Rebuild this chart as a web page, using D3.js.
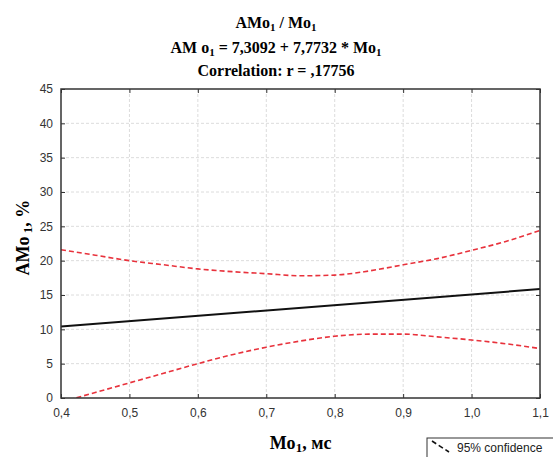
<!DOCTYPE html>
<html>
<head>
<meta charset="utf-8">
<script src="https://cdn.jsdelivr.net/npm/d3@7"></script>
<style>
  body { margin: 0; background: #fff; }
  .tick text { font-family: "Liberation Sans", Arial, sans-serif; font-size: 12px; fill: #333; }
</style>
</head>
<body>
<svg id="chart" width="553" height="457"></svg>
<script>
// regression AMo1 = a + b * Mo1
var intercept = 7.3092;
var slope = 7.7732;

var xTicks = [0.4, 0.5, 0.6, 0.7, 0.8, 0.9, 1.0, 1.1];
var yTicks = [0, 5, 10, 15, 20, 25, 30, 35, 40, 45];

// 95% confidence band
var bandX = [0.4, 0.45, 0.5, 0.55, 0.6, 0.65, 0.7, 0.75, 0.8, 0.85, 0.9, 0.95, 1.0, 1.05, 1.1];
var upperBand = [21.6, 20.8, 20.0, 19.4, 18.8, 18.4, 18.1, 17.8, 17.9, 18.5, 19.4, 20.3, 21.5, 22.8, 24.4];
var lowerBand = [-0.6, 0.8, 2.2, 3.6, 5.0, 6.3, 7.4, 8.3, 9.0, 9.3, 9.3, 8.9, 8.45, 7.9, 7.2];

var svg = d3.select("#chart");
var margin = {top: 89, right: 13, bottom: 59, left: 61};
var width = 553 - margin.left - margin.right;
var height = 457 - margin.top - margin.bottom;

var xScale = d3.scaleLinear().domain([0.4, 1.1]).range([0, width]);
var yScale = d3.scaleLinear().domain([0, 45]).range([height, 0]);

var fmt = function (d) { return d3.format(".1f")(d).replace(".", ","); };

//titles
var titleFont = "'Liberation Serif', 'Times New Roman', serif";
var titles = [
    [["AMo", ""], ["1", "sub"], [" / Mo", ""], ["1", "sub"]],
    [["AM o", ""], ["1", "sub"], [" = 7,3092 + 7,7732 * Mo", ""], ["1", "sub"]],
    [["Correlation: r = ,17756", ""]]
];
var titleY = [28, 53, 76];
titles.forEach(function (parts, i) {
    var t = svg.append("text")
        .attr("x", 276)
        .attr("y", titleY[i])
        .attr("text-anchor", "middle")
        .style("font-family", titleFont)
        .style("font-size", "16px")
        .style("font-weight", "bold");
    parts.forEach(function (p) {
        var ts = t.append("tspan").text(p[0]);
        if (p[1] == "sub") {
            ts.attr("dy", 3).style("font-size", "11px");
        } else {
            ts.attr("dy", t.selectAll("tspan").size() > 1 ? -3 : 0);
        }
    });
});

var panel = svg.append("g")
    .attr("transform", "translate(" + margin.left + "," + margin.top + ")");

// grid
panel.append("g")
    .selectAll("line.gx")
    .data(xTicks.slice(1, -1))
    .enter().append("line")
    .attr("x1", function (d) { return xScale(d); })
    .attr("x2", function (d) { return xScale(d); })
    .attr("y1", 0).attr("y2", height)
    .attr("stroke", "#dcdcdc")
    .attr("stroke-dasharray", "3,2");
panel.append("g")
    .selectAll("line.gy")
    .data(yTicks.slice(1, -1))
    .enter().append("line")
    .attr("y1", function (d) { return yScale(d); })
    .attr("y2", function (d) { return yScale(d); })
    .attr("x1", 0).attr("x2", width)
    .attr("stroke", "#dcdcdc")
    .attr("stroke-dasharray", "3,2");

// axes
var xAxis = d3.axisBottom(xScale).tickValues(xTicks).tickFormat(fmt).tickSizeInner(-4).tickSizeOuter(0).tickPadding(10);
var gx = panel.append("g").attr("transform", "translate(0," + height + ")").call(xAxis);
var yAxis = d3.axisLeft(yScale).tickValues(yTicks).tickSizeInner(-4).tickSizeOuter(0).tickPadding(8);
var gy = panel.append("g").call(yAxis);
panel.append("g").attr("transform", "translate(0,0)")
    .call(d3.axisTop(xScale).tickValues(xTicks).tickFormat("").tickSizeInner(-4).tickSizeOuter(0));
panel.append("g").attr("transform", "translate(" + width + ",0)")
    .call(d3.axisRight(yScale).tickValues(yTicks).tickFormat("").tickSizeInner(-4).tickSizeOuter(0));
panel.selectAll(".domain").remove();
panel.selectAll(".tick line").attr("stroke", "#333");

panel.append("defs").append("clipPath").attr("id", "clip")
    .append("rect").attr("width", width).attr("height", height);

// confidence band
var band = d3.line()
    .x(function (d) { return xScale(d.x); })
    .y(function (d) { return yScale(d.y); })
    .curve(d3.curveMonotoneX);

[upperBand, lowerBand].forEach(function (arr) {
    var pts = bandX.map(function (x, i) { return {x: x, y: arr[i]}; });
    panel.append("path")
        .datum(pts)
        .attr("clip-path", "url(#clip)")
        .attr("d", band)
        .attr("fill", "none")
        .attr("stroke", "#e8323c")
        .attr("stroke-width", 1.6)
        .attr("stroke-dasharray", "5,3");
});

// regression line
var fitPts = [0.4, 1.1].map(function (x) { return {x: x, y: intercept + slope * x}; });
panel.append("path")
    .datum(fitPts)
    .attr("d", d3.line().x(function (d) { return xScale(d.x); }).y(function (d) { return yScale(d.y); }))
    .attr("fill", "none")
    .attr("stroke", "#111")
    .attr("stroke-width", 2);

// frame
panel.append("rect")
    .attr("width", width).attr("height", height)
    .attr("fill", "none")
    .attr("stroke", "#333")
    .attr("stroke-width", 1.5);

// axis labels
var xl = svg.append("text")
    .attr("x", margin.left + width / 2)
    .attr("y", 449)
    .attr("text-anchor", "middle")
    .style("font-family", titleFont)
    .style("font-size", "18px")
    .style("font-weight", "bold");
xl.append("tspan").text("Mo");
xl.append("tspan").attr("dy", 3).style("font-size", "13px").text("1");
xl.append("tspan").attr("dy", -3).text(", мс");

var yl = svg.append("text")
    .attr("transform", "translate(29," + (margin.top + height / 2 - 6) + ") rotate(-90)")
    .attr("text-anchor", "middle")
    .style("font-family", titleFont)
    .style("font-size", "18px")
    .style("font-weight", "bold");
yl.append("tspan").text("AMo");
yl.append("tspan").attr("dy", 3).style("font-size", "13px").text(" 1");
yl.append("tspan").attr("dy", -3).text(", %");

// legend
var leg = svg.append("g").attr("transform", "translate(427,438)");
leg.append("rect")
    .attr("width", 130).attr("height", 22)
    .attr("fill", "#fff").attr("stroke", "#333").attr("stroke-width", 1);
leg.append("line")
    .attr("x1", 5).attr("y1", 3).attr("x2", 22).attr("y2", 14)
    .attr("stroke", "#111").attr("stroke-width", 1.6)
    .attr("stroke-dasharray", "5,3");
leg.append("text")
    .attr("x", 30).attr("y", 14)
    .style("font-family", "'Liberation Sans', Arial, sans-serif")
    .style("font-size", "12px")
    .attr("fill", "#222")
    .text("95% confidence");
</script>
</body>
</html>
